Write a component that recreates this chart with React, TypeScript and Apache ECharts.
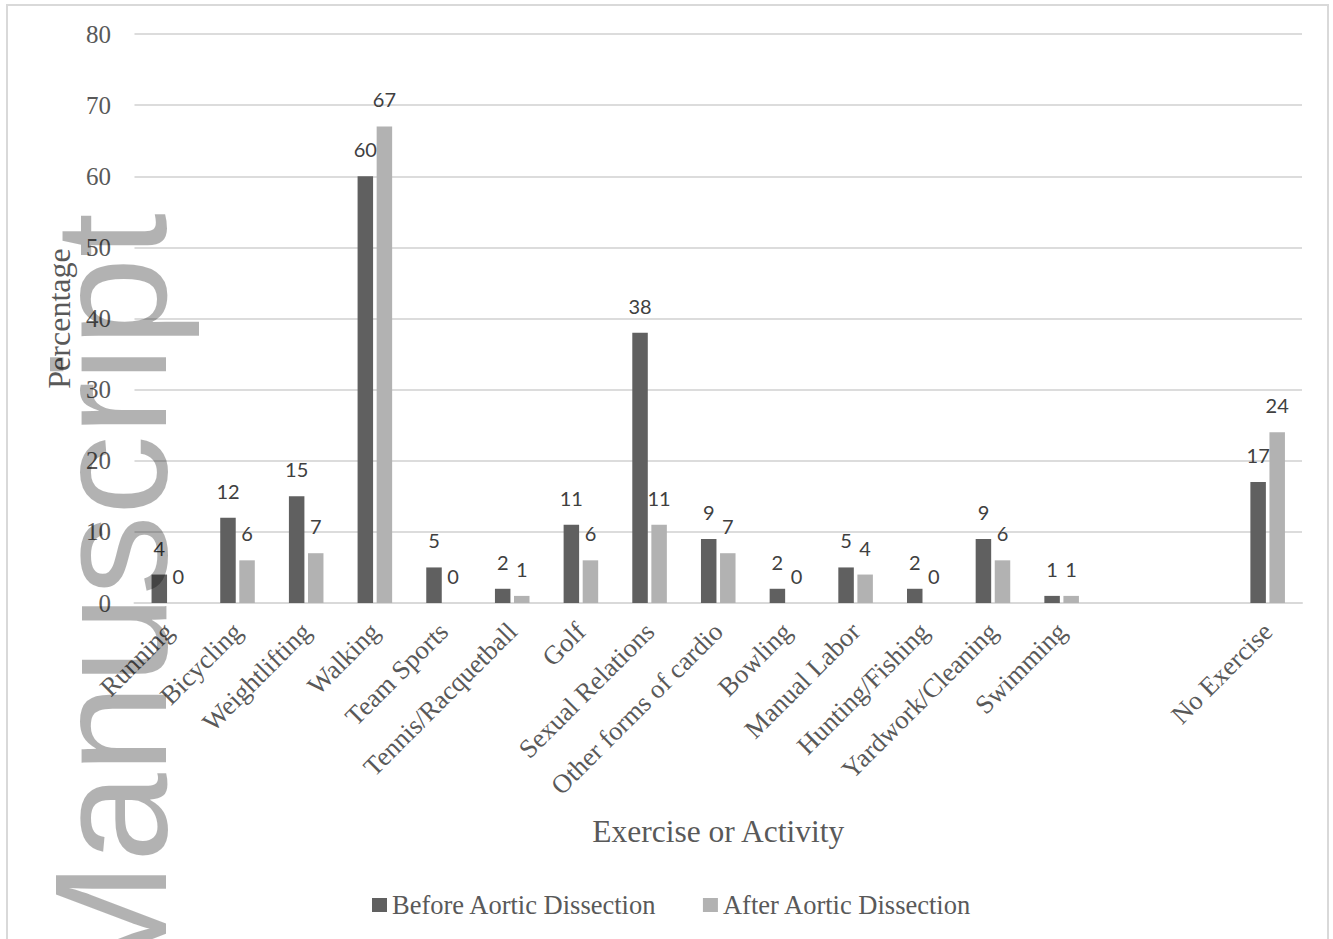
import React, { useEffect, useRef } from 'react';
import * as echarts from 'echarts';

const categories = [
  'Running', 'Bicycling', 'Weightlifting', 'Walking', 'Team Sports',
  'Tennis/Racquetball', 'Golf', 'Sexual Relations', 'Other forms of cardio',
  'Bowling', 'Manual Labor', 'Hunting/Fishing', 'Yardwork/Cleaning', 'Swimming',
  '', '', 'No Exercise',
];
const beforeValues: (number | string)[] = [4, 12, 15, 60, 5, 2, 11, 38, 9, 2, 5, 2, 9, 1, '-', '-', 17];
const afterValues: (number | string)[] = [0, 6, 7, 67, 0, 1, 6, 11, 7, 0, 4, 0, 6, 1, '-', '-', 24];
const seriesNames = ['Before Aortic Dissection', 'After Aortic Dissection'];
const yMin = 0;
const yMax = 80;
const yInterval = 10;

const SERIF = '"Liberation Serif", "Times New Roman", serif';
const TEXT = '#595959';

export default function App() {
  const ref = useRef<HTMLDivElement>(null);
  useEffect(() => {
    document.body.style.margin = '0';
    if (!ref.current) return;
    const chart = echarts.init(ref.current, undefined, { renderer: 'svg' });
    const labelCfg = {
      show: true,
      position: 'top' as const,
      distance: 17,
      color: '#404040',
      fontFamily: 'Lato',
      fontSize: 20,
    };
    chart.setOption({
      animation: false,
      backgroundColor: '#ffffff',
      grid: { left: 134.5, right: 31, top: 34, bottom: 336, containLabel: false },
      legend: {
        left: 372,
        top: 891.5,
        padding: 0,
        itemWidth: 15,
        itemHeight: 14,
        itemGap: 46,
        icon: 'rect',
        textStyle: { fontFamily: SERIF, fontSize: 26.5, color: TEXT },
        data: seriesNames,
      },
      xAxis: {
        type: 'category',
        data: categories,
        name: 'Exercise or Activity',
        nameLocation: 'middle',
        nameGap: 212,
        nameTextStyle: { fontFamily: SERIF, fontSize: 31.5, color: TEXT, verticalAlign: 'top' },
        axisLine: { lineStyle: { color: '#d9d9d9', width: 2 } },
        axisTick: { show: false },
        axisLabel: {
          interval: 0,
          rotate: 45,
          margin: 24,
          fontFamily: SERIF,
          fontSize: 26.5,
          color: TEXT,
        },
      },
      yAxis: {
        type: 'value',
        min: yMin,
        max: yMax,
        interval: yInterval,
        name: 'Percentage',
        nameLocation: 'middle',
        nameGap: 58,
        nameTextStyle: { fontFamily: SERIF, fontSize: 32, color: TEXT },
        axisLine: { show: false },
        axisTick: { show: false },
        axisLabel: { margin: 23.5, fontFamily: SERIF, fontSize: 25, color: TEXT },
        splitLine: { lineStyle: { color: '#dcdcdc', width: 2 } },
      },
      series: [
        {
          name: seriesNames[0],
          type: 'bar',
          data: beforeValues,
          barWidth: 15.5,
          barGap: '23%',
          itemStyle: { color: '#606060' },
          label: labelCfg,
        },
        {
          name: seriesNames[1],
          type: 'bar',
          data: afterValues,
          barWidth: 15.5,
          barGap: '23%',
          itemStyle: { color: '#b2b2b2' },
          label: labelCfg,
        },
      ],
      graphic: [
        {
          type: 'rect',
          z: 0,
          silent: true,
          shape: { x: 7, y: 5, width: 1321, height: 960 },
          style: { fill: 'none', stroke: '#d9d9d9', lineWidth: 2 },
        },
        {
          type: 'text',
          z: 100,
          silent: true,
          x: 110,
          y: 213,
          rotation: Math.PI / 2,
          style: {
            text: 'Manuscript',
            fontFamily: '"Liberation Sans", Arial, sans-serif',
            fontSize: 160,
            fill: 'rgba(0,0,0,0.3)',
            align: 'right',
            verticalAlign: 'middle',
          },
        },
      ],
    });
    return () => chart.dispose();
  }, []);
  return <div ref={ref} style={{ width: 1333, height: 939 }} />;
}
